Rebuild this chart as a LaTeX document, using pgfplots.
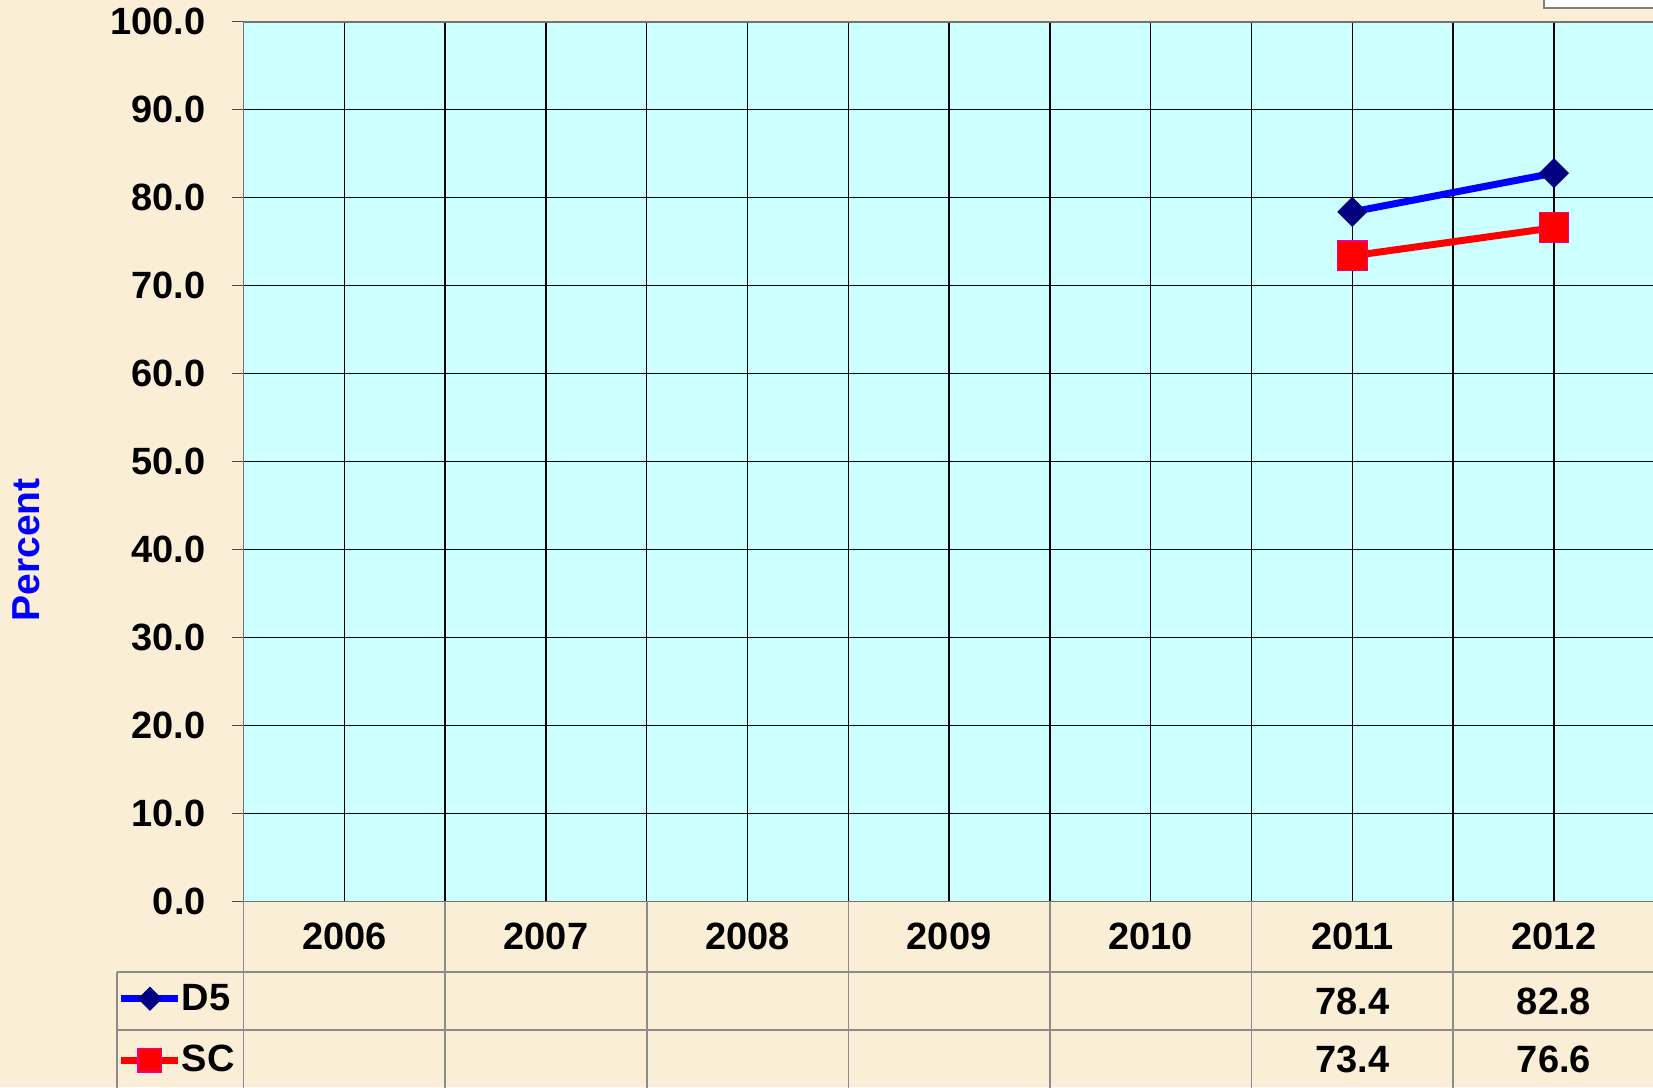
\documentclass[border=0pt]{standalone}
\usepackage{fontspec}
\setmainfont{Liberation Sans}
\usepackage{pgfplots}
\pgfplotsset{compat=1.18}
\definecolor{bgbeige}{HTML}{FAEED6}
\definecolor{plotcyan}{HTML}{CCFFFF}
\definecolor{dnavy}{HTML}{000080}
\definecolor{tgray}{HTML}{8C8C8C}
\newcommand{\bigf}{\bfseries\fontsize{19}{22}\selectfont}
\begin{document}
\begin{tikzpicture}
\path[use as bounding box] (0,0) rectangle (826.5pt,543.5pt);
\clip (0,0) rectangle (826.5pt,543.5pt);
\fill[bgbeige] (0,0) rectangle (826.5pt,543.5pt);
\begin{axis}[
  at={(121.75pt,92.85pt)}, anchor=south west,
  scale only axis, width=705.6pt, height=439.7pt,
  xmin=-0.5, xmax=6.5, ymin=0, ymax=100,
  clip=false,
  axis background/.style={fill=plotcyan},
  xtick={0,...,6}, xticklabels={2006,2007,2008,2009,2010,2011,2012},
  minor xtick={-0.5,0.5,...,6.5},
  ytick={0,10,...,100},
  grid=both,
  major grid style={black, line width=0.65pt},
  minor grid style={black, line width=0.65pt},
  xtick style={draw=none},
  tick align=outside,
  major tick length=6pt,
  ytick style={draw=black!70, line width=0.6pt},
  /pgf/number format/assume math mode=true,
  yticklabel style={/pgf/number format/fixed, /pgf/number format/fixed zerofill, /pgf/number format/precision=1, font=\bigf, anchor=east, inner sep=0pt, xshift=-12.7pt},
  xticklabel style={font=\bigf, anchor=center, inner sep=0pt, yshift=-11.7pt},
  axis line style={draw=black!55, line width=0.8pt},
  legend image code/.code={\draw[mark repeat=2,mark phase=2,#1, every mark/.append style={scale=0.8}] plot coordinates {(0pt,0pt) (14.25pt,0pt) (28.5pt,0pt)};},
  legend style={draw=none, fill=none, inner sep=0pt, outer sep=0pt, at={(-0.0890,-0.1458)}, anchor=west, font=\bigf, row sep=16pt, column sep=0pt, nodes={inner sep=0pt}},
  legend cell align=left,
]
\addplot[blue, line width=3.5pt, mark=square*, mark size=5.1pt, mark options={rotate=45, fill=dnavy, draw=dnavy, line width=0.4pt, solid}] coordinates {(5,78.4) (6,82.8)};
\addlegendentry{D5}
\addplot[red, line width=3.5pt, mark=square*, mark size=7.4pt, mark options={fill=red, draw=magenta, line width=0.6pt, solid}] coordinates {(5,73.4) (6,76.6)};
\addlegendentry{SC}
% data table grid
\draw[tgray, line width=0.8pt] (axis cs:-1.1275,-8.04) -- (axis cs:6.6,-8.04);
\draw[tgray, line width=0.8pt] (axis cs:-1.1275,-14.64) -- (axis cs:6.6,-14.64);
\draw[tgray, line width=0.8pt] (axis cs:-1.1275,-8.04) -- (axis cs:-1.1275,-22);
\pgfplotsinvokeforeach{-0.5,0.5,1.5,2.5,3.5,4.5,5.5}{
  \draw[tgray, line width=0.8pt] (axis cs:#1,0) -- (axis cs:#1,-22);
}
\node[font=\bigf, inner sep=0pt] at (axis cs:5,-11.34) {78.4};
\node[font=\bigf, inner sep=0pt] at (axis cs:6,-11.34) {82.8};
\node[font=\bigf, inner sep=0pt] at (axis cs:5,-17.99) {73.4};
\node[font=\bigf, inner sep=0pt] at (axis cs:6,-17.99) {76.6};
\end{axis}
\node[rotate=90, text=blue, font=\bfseries\fontsize{19.5}{22}\selectfont, inner sep=0pt] at (13.2pt,268.6pt) {Percent};
\draw[gray, line width=0.6pt, fill=white] (772pt,539.5pt) rectangle (830pt,550pt);
\end{tikzpicture}
\end{document}
